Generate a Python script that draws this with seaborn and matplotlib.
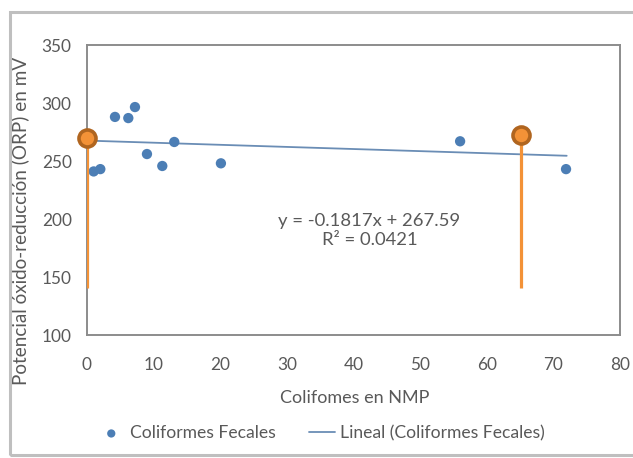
import numpy as np
import pandas as pd
import matplotlib
matplotlib.use("Agg")
import matplotlib.pyplot as plt
import seaborn as sns
from matplotlib.patches import Rectangle

# data
nmp = [1.0, 2.0, 4.2, 6.2, 7.2, 9.0, 11.3, 13.1, 20.1, 56.0, 71.9]
orp = [241, 243, 288, 287, 296.5, 256, 245.7, 266.4, 248, 267, 243]
trend_x = [0, 72]
slope = -0.1817
intercept = 267.59
r2 = 0.0421
mark_x = [0, 65.2]
mark_top = [270, 272.4]
mark_bottom = [140.5, 140.5]
x_ticks = [0, 10, 20, 30, 40, 50, 60, 70, 80]
y_ticks = [100, 150, 200, 250, 300, 350]

df = pd.DataFrame({"NMP": nmp, "ORP": orp})
trend = pd.DataFrame({"NMP": trend_x})
trend["ORP"] = slope * trend["NMP"] + intercept

sns.set_style("white")
plt.rcParams["font.family"] = ["Lato", "DejaVu Sans"]

grey = "#595959"
blue = "#4C7EB5"

fig = plt.figure(figsize=(6.33, 4.58), dpi=100)
ax = fig.add_axes([87/633, 1-335/458, 533/633, 290/458])

fig.patches.append(Rectangle((10/633, 3/458), 630/633, 443/458, transform=fig.transFigure,
                             fill=False, edgecolor="#BFBFBF", linewidth=2.2))

sns.scatterplot(data=df, x="NMP", y="ORP", ax=ax, color=blue, s=55, edgecolor="none",
                label="Coliformes Fecales", zorder=3)
sns.lineplot(data=trend, x="NMP", y="ORP", ax=ax, color="#6A8DB5", linewidth=1.3,
             label="Lineal (Coliformes Fecales)", zorder=2)

ax.vlines(mark_x, mark_bottom, mark_top, color="#F39237", linewidth=2.3, zorder=4)
ax.scatter(mark_x, mark_top, s=150, color="#F39237", edgecolor="#B0651F", linewidth=2.6,
           zorder=5, clip_on=False)

ax.text(0.53, 0.36, f"y = {slope}x + {intercept}\nR² = {r2}", transform=ax.transAxes,
        ha="center", va="center", fontsize=13.3, color=grey, linespacing=1.23)

ax.set_xlim(0, 80)
ax.set_ylim(100, 350)
ax.set_xticks(x_ticks)
ax.set_yticks(y_ticks)
ax.tick_params(labelsize=12.4, colors=grey, length=0)
ax.tick_params(axis="x", pad=16)
ax.tick_params(axis="y", pad=11)
for s in ax.spines.values():
    s.set_color("#8C8C8C")
    s.set_linewidth(1.4)

ax.set_xlabel("Colifomes en NMP", fontsize=13, color=grey)
ax.set_ylabel("Potencial óxido-reducción (ORP) en mV", fontsize=13.6, color=grey)
ax.xaxis.set_label_coords(0.502, (335 - 390) / 290)
ax.yaxis.set_label_coords((29 - 87) / 533, (335 - 221) / 290)

ax.legend(loc="center", bbox_to_anchor=(0.44, (335 - 433) / 290), ncol=2, frameon=False,
          fontsize=12.6, labelcolor=grey, handlelength=1.5, handletextpad=0.3,
          columnspacing=1.9, markerscale=0.8)

fig.savefig("out.png", dpi=100)
